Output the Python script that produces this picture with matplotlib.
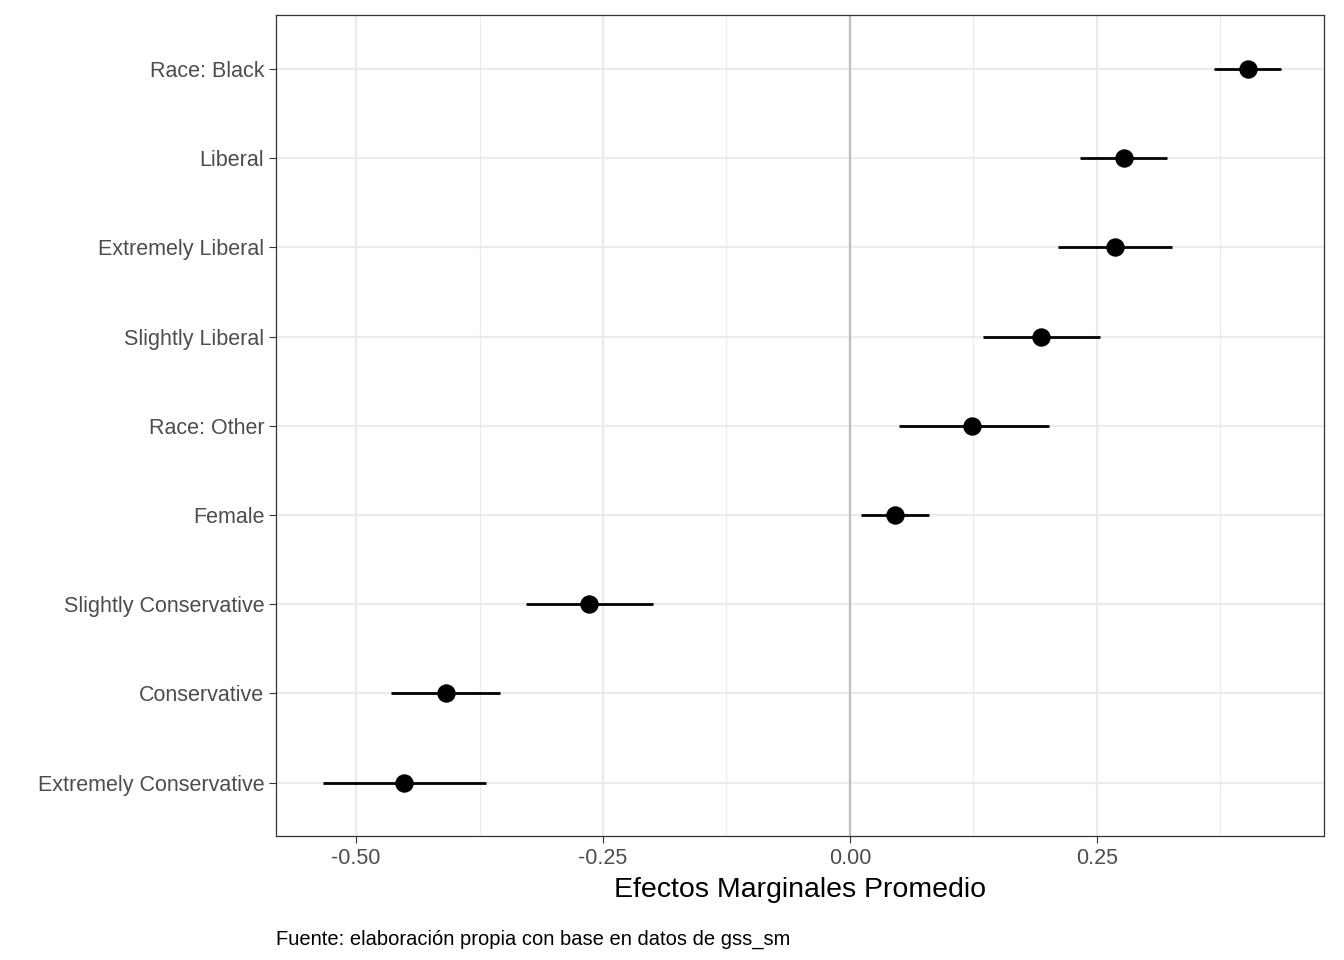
import numpy as np
import matplotlib
matplotlib.use("Agg")
import matplotlib.pyplot as plt

plt.rcParams['font.family'] = ['Liberation Sans', 'DejaVu Sans']

# bottom to top
terms = ["Extremely Conservative", "Conservative", "Slightly Conservative", "Female",
         "Race: Other", "Slightly Liberal", "Extremely Liberal", "Liberal", "Race: Black"]
ame = [-0.451, -0.409, -0.264, 0.046, 0.124, 0.193, 0.268, 0.277, 0.403]
lower = [-0.533, -0.465, -0.328, 0.011, 0.050, 0.135, 0.211, 0.233, 0.369]
upper = [-0.368, -0.354, -0.199, 0.080, 0.201, 0.253, 0.326, 0.321, 0.436]

fig = plt.figure(figsize=(13.44, 9.6), dpi=100)
ax = fig.add_axes([0.2054, 0.129, 0.7798, 0.855])
y = np.arange(1, len(terms) + 1)

ax.set_xticks([-0.5, -0.25, 0, 0.25])
ax.set_xticklabels(["-0.50", "-0.25", "0.00", "0.25"])
ax.set_xticks([-0.375, -0.125, 0.125, 0.375], minor=True)
ax.set_yticks(y)
ax.set_yticklabels(terms)
ax.grid(True, which='major', color='#ebebeb', lw=1.6)
ax.grid(True, which='minor', axis='x', color='#ebebeb', lw=0.8)
ax.set_axisbelow(True)
ax.axvline(0, color='#bebebe', lw=1.6, zorder=1)

ax.hlines(y, lower, upper, color='black', lw=2, zorder=3)
ax.scatter(ame, y, s=150, color='black', zorder=4)

ax.set_xlim(-0.581, 0.480)
ax.set_ylim(0.4, 9.6)
for s in ax.spines.values():
    s.set_color('#333333')
    s.set_linewidth(0.9)
ax.tick_params(which='major', length=5, color='#333333', labelsize=15.5, labelcolor='#4d4d4d')
ax.tick_params(which='minor', length=0)
ax.set_xlabel("Efectos Marginales Promedio", fontsize=20.5, labelpad=6)
fig.text(0.2054, 0.016, "Fuente: elaboración propia con base en datos de gss_sm", fontsize=14.5)

fig.savefig("out.png", dpi=100)
